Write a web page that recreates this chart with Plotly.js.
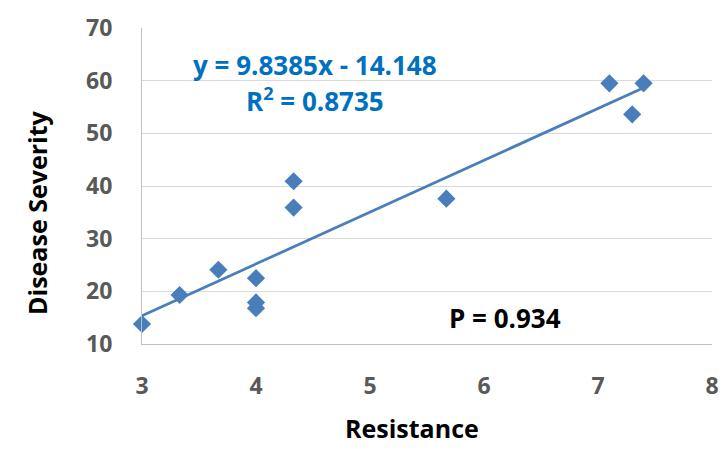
<!DOCTYPE html>
<html>
<head>
<meta charset="utf-8">
<script src="https://cdn.plot.ly/plotly-3.0.1.min.js"></script>
<style>
  html, body { margin: 0; padding: 0; background: #fff; }
  #chart { width: 728px; height: 452px; }
</style>
</head>
<body>
<div id="chart"></div>
<script>
// data
const resistance = [3, 3.33, 3.67, 4, 4, 4, 4.33, 4.33, 5.67, 7.1, 7.3, 7.4];
const severity = [13.8, 19.3, 24.1, 22.5, 17.9, 16.8, 40.9, 35.9, 37.6, 59.5, 53.6, 59.5];

// trendline from the fitted equation
const slope = 9.8385;
const intercept = -14.148;
const rSquared = 0.8735;
const pValue = 0.934;

const xTicks = [3, 4, 5, 6, 7, 8];
const yTicks = [10, 20, 30, 40, 50, 60, 70];

const FONT = '"Open Sans", Lato, sans-serif';
const BLUE = '#4a7ebb';
const TEXT_BLUE = '#0070c0';

const xMin = Math.min(...resistance);
const xMax = Math.max(...resistance);
const trendX = [xMin, xMax];
const trendY = trendX.map(x => slope * x + intercept);

const traces = [
    {
        x: trendX,
        y: trendY,
        mode: 'lines',
        line: { color: BLUE, width: 2.75 },
        cliponaxis: false,
        hoverinfo: 'none',
        showlegend: false
    },
    {
        x: resistance,
        y: severity,
        mode: 'markers',
        marker: { symbol: 'diamond', size: 14, color: BLUE },
        cliponaxis: false,
        showlegend: false
    }
];

const axisFont = { family: FONT, size: 23, color: '#595959', weight: 'bold' };
const titleFont = { family: FONT, size: 25, color: '#000', weight: 'bold' };
const noteFont = { family: FONT, size: 26, color: TEXT_BLUE, weight: 'bold' };

const layout = {
    width: 728,
    height: 452,
    margin: { l: 142, r: 16, t: 28, b: 108 },
    paper_bgcolor: '#fff',
    plot_bgcolor: '#fff',
    showlegend: false,
    xaxis: {
        range: [3, 8],
        tickvals: xTicks,
        showgrid: false,
        zeroline: false,
        showline: true,
        linecolor: '#bfbfbf',
        linewidth: 1,
        ticks: '',
        ticklabelstandoff: 21,
        tickfont: axisFont
    },
    yaxis: {
        range: [10, 70],
        tickvals: yTicks,
        showgrid: true,
        gridcolor: '#d9d9d9',
        gridwidth: 1,
        zeroline: false,
        showline: true,
        linecolor: '#bfbfbf',
        linewidth: 1,
        ticks: '',
        ticklabelstandoff: 24,
        tickfont: axisFont
    },
    annotations: [
        {
            x: 0.474, y: -0.266, xref: 'paper', yref: 'paper',
            xanchor: 'center', yanchor: 'middle',
            text: 'Resistance', showarrow: false, font: titleFont
        },
        {
            x: -0.184, y: 0.415, xref: 'paper', yref: 'paper',
            xanchor: 'center', yanchor: 'middle',
            text: 'Disease Severity', textangle: -90, showarrow: false, font: titleFont
        },
        {
            x: 4.52, y: 63.0, xref: 'x', yref: 'y',
            xanchor: 'center', yanchor: 'middle',
            text: 'y = ' + slope + 'x - ' + Math.abs(intercept),
            showarrow: false, font: noteFont
        },
        {
            x: 4.52, y: 56.3, xref: 'x', yref: 'y',
            xanchor: 'center', yanchor: 'middle',
            text: 'R<sup>2</sup> = ' + rSquared,
            showarrow: false, font: noteFont
        },
        {
            x: 6.18, y: 14.9, xref: 'x', yref: 'y',
            xanchor: 'center', yanchor: 'middle',
            text: 'P = ' + pValue,
            showarrow: false,
            font: { family: FONT, size: 26, color: '#000', weight: 'bold' }
        }
    ]
};

Plotly.newPlot('chart', traces, layout, { displayModeBar: false, staticPlot: true });
</script>
</body>
</html>
